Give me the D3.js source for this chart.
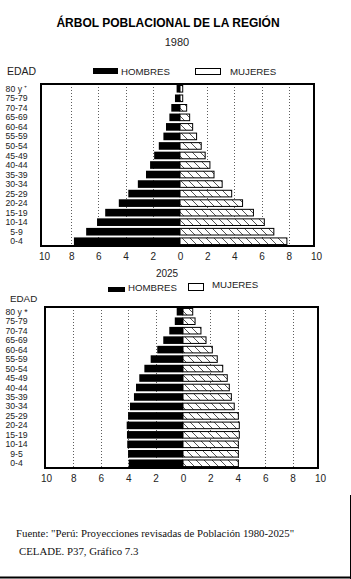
<!DOCTYPE html>
<html>
<head>
<meta charset="utf-8">
<script src="https://cdn.jsdelivr.net/npm/d3@7"></script>
<style>
  body { margin: 0; background: #fff; }
  svg { display: block; font-family: "Liberation Sans", Arial, sans-serif; }
  .tick text { font-family: "Liberation Sans", Arial, sans-serif; }
</style>
</head>
<body>
<div id="chart"></div>
<script>
// age groups, top to bottom
const ages1980 = ["80 y ⁺", "75-79", "70-74", "65-69", "60-64", "55-59", "50-54", "45-49",
  "40-44", "35-39", "30-34", "25-29", "20-24", "15-19", "10-14", "5-9", "0-4"];
const ages2025 = ["80 y *", "75-79", "70-74", "65-69", "60-64", "55-59", "50-54", "45-49",
  "40-44", "35-39", "30-34", "25-29", "20-24", "15-19", "10-14", "9-5", "0-4"];

// percentage of population
const men1980 = [0.25, 0.37, 0.64, 0.78, 1.03, 1.22, 1.56, 1.9, 2.2, 2.5, 3.1, 3.8, 4.5, 5.5, 6.1, 6.9, 7.8];
const women1980 = [0.2, 0.2, 0.49, 0.71, 0.93, 1.22, 1.56, 1.85, 2.2, 2.5, 3.1, 3.8, 4.6, 5.4, 6.2, 6.9, 7.86];
const men2025 = [0.46, 0.6, 1.0, 1.44, 1.88, 2.36, 2.82, 3.19, 3.43, 3.58, 3.87, 4.01, 4.11, 4.09, 4.07, 4.01, 3.96];
const women2025 = [0.71, 0.88, 1.31, 1.68, 2.14, 2.5, 2.9, 3.23, 3.38, 3.53, 3.74, 4.04, 4.11, 4.11, 4.04, 4.04, 4.04];

const tickValues = [-10, -8, -6, -4, -2, 0, 2, 4, 6, 8, 10];
const gridValues = [-8, -6, -4, -2, 2, 4, 6, 8];

const W = 351, H = 579;

const svg = d3.select("#chart")
  .append("svg")
  .attr("width", W)
  .attr("height", H);

svg.append("rect").attr("width", W).attr("height", H).attr("fill", "#fff");

// hatch for women's bars
const pat = svg.append("defs").append("pattern")
  .attr("id", "hatch")
  .attr("patternUnits", "userSpaceOnUse")
  .attr("width", 8).attr("height", 8);
pat.append("rect").attr("width", 8).attr("height", 8).attr("fill", "#fff");
pat.append("path").attr("d", "M0,0 L8,8 M-1,7 L1,9 M7,-1 L9,1")
  .attr("stroke", "#555").attr("stroke-width", 1);

// title
svg.append("text")
  .attr("x", 168).attr("y", 27)
  .attr("text-anchor", "middle")
  .attr("font-size", 12).attr("font-weight", "bold")
  .text("ÁRBOL POBLACIONAL DE LA REGIÓN");

function drawPyramid(opt) {
  const x = d3.scaleLinear().domain([-10, 10]).range(opt.xRange);
  const y = d3.scaleBand().domain(opt.ages).range(opt.yRange).paddingInner(0.2).paddingOuter(0.1);
  const [top, bottom] = opt.yRange;
  const g = svg.append("g");

  // year label
  g.append("text")
    .attr("x", opt.year.x).attr("y", opt.year.y)
    .attr("text-anchor", "middle")
    .attr("font-size", opt.year.size)
    .attr("fill", "#222")
    .text(opt.year.text);

  // legend
  const lg = opt.legend;
  g.append("rect").attr("x", lg.men[0]).attr("y", lg.men[1]).attr("width", lg.men[2]).attr("height", lg.men[3]).attr("fill", "#000");
  g.append("text").attr("x", lg.menText[0]).attr("y", lg.menText[1]).attr("font-size", 9.7).attr("fill", "#222").text("HOMBRES");
  g.append("rect").attr("x", lg.women[0] + 0.5).attr("y", lg.women[1] + 0.5).attr("width", lg.women[2]).attr("height", lg.women[3])
    .attr("fill", "#fff").attr("stroke", "#000");
  g.append("text").attr("x", lg.womenText[0]).attr("y", lg.womenText[1]).attr("font-size", 9.7).attr("fill", "#222").text("MUJERES");

  g.append("text")
    .attr("x", opt.edad[0]).attr("y", opt.edad[1])
    .attr("font-size", opt.edad[2])
    .attr("fill", "#222")
    .text("EDAD");

  // grid
  g.selectAll(".grid").data(gridValues).enter()
    .append("line")
    .attr("x1", d => Math.round(x(d)) + 0.5)
    .attr("x2", d => Math.round(x(d)) + 0.5)
    .attr("y1", top).attr("y2", bottom)
    .attr("stroke", "#333")
    .attr("stroke-width", 0.8)
    .attr("stroke-dasharray", "1,2");

  // men
  g.selectAll(".men").data(opt.men).enter()
    .append("rect")
    .attr("x", d => x(-d))
    .attr("y", (d, i) => y(opt.ages[i]))
    .attr("width", d => x(0) - x(-d))
    .attr("height", y.bandwidth())
    .attr("fill", "#000");

  // women
  g.selectAll(".women").data(opt.women).enter()
    .append("rect")
    .attr("x", x(0))
    .attr("y", (d, i) => y(opt.ages[i]) + 0.5)
    .attr("width", d => x(d) - x(0))
    .attr("height", y.bandwidth() - 1)
    .attr("fill", "url(#hatch)")
    .attr("stroke", "#000")
    .attr("stroke-width", 1);

  // frame
  g.append("rect")
    .attr("x", opt.frame[0]).attr("y", top)
    .attr("width", opt.frame[1] - opt.frame[0])
    .attr("height", bottom - top)
    .attr("fill", "none")
    .attr("stroke", "#000")
    .attr("stroke-width", 2);

  // age labels
  g.selectAll(".age").data(opt.ages).enter()
    .append("text")
    .attr("x", 16.5)
    .attr("y", d => y(d) + y.bandwidth() / 2)
    .attr("dy", "0.35em")
    .attr("text-anchor", "middle")
    .attr("font-size", 8.7)
    .attr("fill", "#222")
    .text(d => d);

  // x axis labels
  const ax = g.append("g")
    .attr("transform", `translate(0, ${bottom + 4})`)
    .call(d3.axisBottom(x).tickValues(tickValues).tickSize(0).tickFormat(d => Math.abs(d)));
  ax.select(".domain").remove();
  ax.selectAll("text").attr("font-size", 10).attr("fill", "#222");
}

drawPyramid({
  ages: ages1980, men: men1980, women: women1980,
  xRange: [44, 316], yRange: [84, 246], frame: [41, 314],
  year: {text: "1980", x: 177, y: 46, size: 11},
  legend: {men: [93, 68, 25, 6], menText: [121, 74.5], women: [195, 68, 25, 6], womenText: [230, 74.5]},
  edad: [7, 75, 10.5]
});

drawPyramid({
  ages: ages2025, men: men2025, women: women2025,
  xRange: [46, 320], yRange: [307, 468], frame: [45, 318],
  year: {text: "2025", x: 167, y: 277, size: 10},
  legend: {men: [108, 287, 17, 5], menText: [128, 291], women: [188, 283, 15, 7], womenText: [212, 288]},
  edad: [10, 302, 9.8]
});

// source
const src = svg.append("g")
  .attr("font-family", "'Liberation Serif', 'Times New Roman', serif")
  .attr("font-size", 10.8)
  .attr("fill", "#111");
src.append("text").attr("x", 16).attr("y", 537)
  .text("Fuente: \"Perú: Proyecciones revisadas de Población 1980-2025\"");
src.append("text").attr("x", 19).attr("y", 555)
  .text("CELADE. P37, Gráfico 7.3");

// picture border
svg.append("line").attr("x1", 0).attr("x2", W).attr("y1", 577.5).attr("y2", 577.5).attr("stroke", "#000").attr("stroke-width", 2);
svg.append("line").attr("x1", 350.5).attr("x2", 350.5).attr("y1", 495).attr("y2", H).attr("stroke", "#000");
</script>
</body>
</html>
